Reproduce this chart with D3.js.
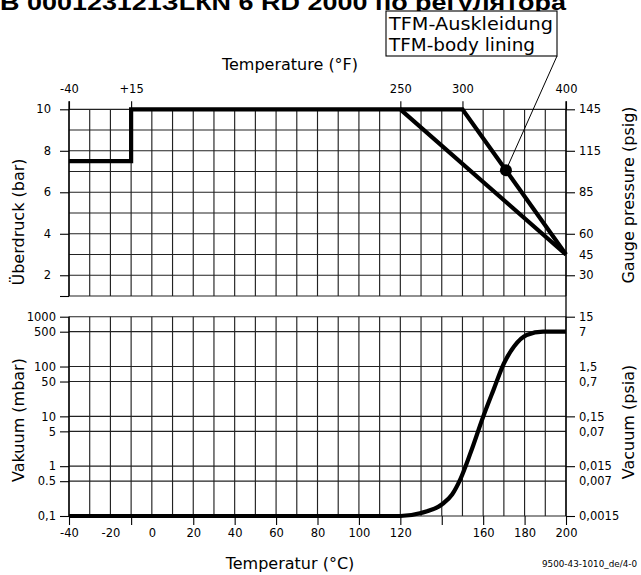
<!DOCTYPE html>
<html>
<head>
<meta charset="utf-8">
<script src="https://cdn.jsdelivr.net/npm/d3@7"></script>
<style>
html,body{margin:0;padding:0;background:#fff;}
svg{display:block;}
text{font-family:"DejaVu Sans",sans-serif;fill:#000;}
</style>
</head>
<body>
<svg id="chart" width="641" height="575"></svg>
<script>
// ---------- data ----------
const titleText = "В 000123121ЗLКN 6 RD 2000 по регулятора";
const calloutLines = ["TFM-Auskleidung", "TFM-body lining"];

// temperature grid (°C) and labels
const gridCelsius = [-40,-30,-20,-10,0,10,20,30,40,50,60,70,80,90,100,110,120,130,140,150,160,170,180,190,200];
const celsiusLabels = [-40,-20,0,20,40,60,80,100,120,160,180,200];
const celsiusTickMarks = [-40,-10,20,40,60,80,100,120,140,160,180,200];
const fahrenheitLabels = ["-40","+15","250","300","400"];
const fahrenheitAtCelsius = [-40,-10,120,150,200];

// pressure panel
const pressureGrid = [1,2,3,4,5,6,7,8,9,10];
const pressureTicks = [10,8,6,4,2,1];
const psigLabels = ["145","115","85","60","45","30"];
const psigAtBar = [10,8,6,4,3,2];
const psigTickBars = [10,8,6,4,2];

// standard curve (bar)
const stdTemp = [-40,-10,-10,120,200];
const stdBar  = [7.5,7.5,10,10,3];
// TFM body lining curve (bar)
const tfmTemp = [120,150,200];
const tfmBar  = [10,10,3];
const markerTemp = 171;
const markerBar = 7.06;

// vacuum panel
const vacuumTicks  = [1000,500,100,50,10,5,1,0.5,0.1];
const vacuumLabels = ["1000","500","100","50","10","5","1","0.5","0,1"];
const psiaLabels   = ["15","7","1,5","0,7","0,15","0,07","0,015","0,007","0,0015"];
const psiaTickMbar = [1000,10,1,0.1];
const vacTemp = [-40,120,130,140,145,149,154,160,165,170,175,181,189,200];
const vacMbar = [0.1,0.1,0.115,0.17,0.27,0.55,1.9,9.8,34,115,255,430,500,500];

// ---------- drawing ----------
const svg = d3.select("#chart");
const x  = d3.scaleLinear().domain([-40,200]).range([69,566]);
const yP = d3.scaleLinear().domain([1,10]).range([296,109.3]);
const yV = d3.scaleLog().domain([0.1,1000]).range([516,316.7]);

const gridColor = "#222";

// title (cropped at top, as in the reference)
svg.append("text").attr("x",0).attr("y",9.5)
  .style("font-family","Liberation Sans, Arial, sans-serif")
  .attr("font-weight","bold").attr("font-size",22)
  .attr("textLength",566).attr("lengthAdjust","spacingAndGlyphs")
  .text(titleText);

// ---- grids ----
const g = svg.append("g").attr("stroke",gridColor).attr("stroke-width",1.15);
g.selectAll(".vt").data(gridCelsius).join("line")
  .attr("x1",d=>x(d)).attr("x2",d=>x(d)).attr("y1",yP(10)).attr("y2",yP(1));
g.selectAll(".ht").data(pressureGrid).join("line")
  .attr("x1",x(-40)).attr("x2",x(200)).attr("y1",d=>yP(d)).attr("y2",d=>yP(d));
g.selectAll(".vb").data(gridCelsius).join("line")
  .attr("x1",d=>x(d)).attr("x2",d=>x(d)).attr("y1",yV(1000)).attr("y2",yV(0.1));
g.selectAll(".hb").data(vacuumTicks).join("line")
  .attr("x1",x(-40)).attr("x2",x(200)).attr("y1",d=>yV(d)).attr("y2",d=>yV(d));

// axis spines
const sp = svg.append("g").attr("stroke","#000").attr("stroke-width",1.3);
sp.append("line").attr("x1",x(-40)).attr("x2",x(-40)).attr("y1",yP(10)-8).attr("y2",yP(1));
sp.append("line").attr("x1",x(-40)).attr("x2",x(-40)).attr("y1",yV(1000)).attr("y2",yV(0.1));
sp.append("line").attr("x1",x(200)).attr("x2",x(200)).attr("y1",yP(10)-8).attr("y2",yV(0.1));

function styleAxis(sel, fs){
  sel.select(".domain").remove();
  sel.selectAll(".tick line").attr("stroke","#000").attr("stroke-width",1.1);
  sel.selectAll(".tick text").attr("font-size",fs).attr("font-family",null).style("font-family","DejaVu Sans, sans-serif");
}

// left pressure axis
const aL = svg.append("g").attr("transform",`translate(${x(-40)},0)`)
  .call(d3.axisLeft(yP).tickValues(pressureTicks).tickFormat(d=>d===1?"":d).tickSize(9).tickPadding(9));
styleAxis(aL,11.5);

// right psig axis
const aR = svg.append("g").attr("transform",`translate(${x(200)},0)`)
  .call(d3.axisRight(yP).tickValues(psigAtBar).tickFormat((d,i)=>psigLabels[i]).tickSize(9).tickPadding(4));
styleAxis(aR,11.5);
aR.selectAll(".tick line").filter(d=>!psigTickBars.includes(d)).remove();

// top fahrenheit axis
const aT = svg.append("g").attr("transform",`translate(0,${yP(10)})`)
  .call(d3.axisTop(x).tickValues(fahrenheitAtCelsius).tickFormat((d,i)=>fahrenheitLabels[i]).tickSize(8).tickPadding(8));
styleAxis(aT,11.5);

// left vacuum axis
const aLV = svg.append("g").attr("transform",`translate(${x(-40)},0)`)
  .call(d3.axisLeft(yV).tickValues(vacuumTicks).tickFormat((d,i)=>vacuumLabels[i]).tickSize(9).tickPadding(4));
styleAxis(aLV,11.5);

// right psia axis
const aRV = svg.append("g").attr("transform",`translate(${x(200)},0)`)
  .call(d3.axisRight(yV).tickValues(vacuumTicks).tickFormat((d,i)=>psiaLabels[i]).tickSize(9).tickPadding(4));
styleAxis(aRV,11.5);
aRV.selectAll(".tick line").filter(d=>!psiaTickMbar.includes(d)).remove();

// bottom celsius axis
const allBottom = Array.from(new Set(celsiusTickMarks.concat(celsiusLabels))).sort((a,b)=>a-b);
const aB = svg.append("g").attr("transform",`translate(0,${yV(0.1)})`)
  .call(d3.axisBottom(x).tickValues(allBottom).tickFormat(d=>celsiusLabels.includes(d)?String(d):"").tickSize(9).tickPadding(4));
styleAxis(aB,11.5);
aB.selectAll(".tick line").filter(d=>!celsiusTickMarks.includes(d)).remove();

// ---- curves ----
const lineP = d3.line().x(d=>x(d[0])).y(d=>yP(d[1]));
svg.append("path").datum(stdTemp.map((t,i)=>[t,stdBar[i]]))
  .attr("d",lineP).attr("fill","none").attr("stroke","#000").attr("stroke-width",4.2).attr("stroke-linejoin","miter");
svg.append("path").datum(tfmTemp.map((t,i)=>[t,tfmBar[i]]))
  .attr("d",lineP).attr("fill","none").attr("stroke","#000").attr("stroke-width",4.2).attr("stroke-linejoin","miter");

const lineV = d3.line().x(d=>x(d[0])).y(d=>yV(d[1])).curve(d3.curveMonotoneX);
svg.append("path").datum(vacTemp.map((t,i)=>[t,vacMbar[i]]))
  .attr("d",lineV).attr("fill","none").attr("stroke","#000").attr("stroke-width",4.2);

// marker + callout
const mx = x(markerTemp), my = yP(markerBar);
const boxX = 386, boxY = 11, boxW = 171, boxH = 45;
svg.append("line").attr("x1",mx).attr("y1",my).attr("x2",boxX+boxW).attr("y2",boxY+boxH)
  .attr("stroke","#000").attr("stroke-width",1);
svg.append("circle").attr("cx",mx).attr("cy",my).attr("r",6).attr("fill","#000");
svg.append("rect").attr("x",boxX).attr("y",boxY).attr("width",boxW).attr("height",boxH)
  .attr("fill","#fff").attr("stroke","#000").attr("stroke-width",1.1);
svg.selectAll(".callout").data(calloutLines).join("text")
  .attr("x",boxX+3).attr("y",(d,i)=>boxY+19+i*21)
  .attr("font-size",17).attr("textLength",(d,i)=>i===0?164:146).attr("lengthAdjust","spacingAndGlyphs")
  .text(d=>d);

// ---- axis titles ----
svg.append("text").attr("x",290).attr("y",70).attr("text-anchor","middle").attr("font-size",16).text("Temperature (°F)");
svg.append("text").attr("x",290).attr("y",569).attr("text-anchor","middle").attr("font-size",16).text("Temperatur (°C)");
function vtitle(txt, cx, cy){
  svg.append("text").attr("transform",`translate(${cx},${cy}) rotate(-90)`)
    .attr("text-anchor","middle").attr("dy","0.35em").attr("font-size",16).text(txt);
}
vtitle("Überdruck (bar)",18,222);
vtitle("Vakuum (mbar)",18,420);
vtitle("Gauge pressure (psig)",628,195);
vtitle("Vacuum (psia)",628,422);

svg.append("text").attr("x",542).attr("y",567).attr("font-size",9)
  .attr("textLength",95).attr("lengthAdjust","spacingAndGlyphs").text("9500-43-1010_de/4-0");
</script>
</body>
</html>
